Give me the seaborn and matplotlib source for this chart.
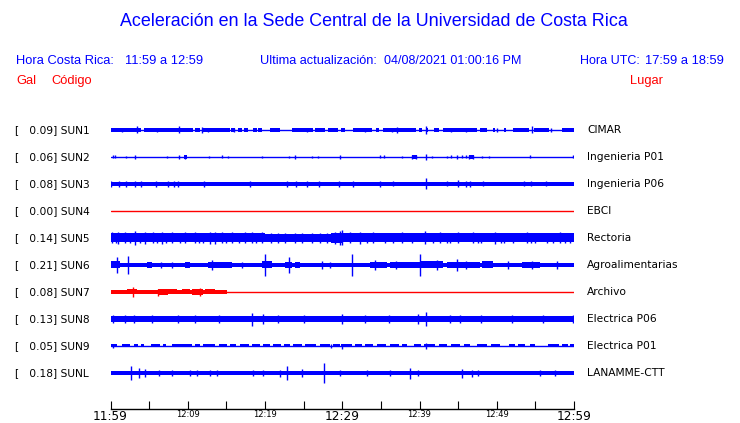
import matplotlib
matplotlib.use("Agg")
import matplotlib.pyplot as plt
import matplotlib.transforms as mtransforms
import seaborn as sns

# stations, peak values (Gal), places
codes   = ["SUN1", "SUN2", "SUN3", "SUN4", "SUN5", "SUN6", "SUN7", "SUN8", "SUN9", "SUNL"]
peaks   = [0.09, 0.06, 0.08, 0.00, 0.14, 0.21, 0.08, 0.13, 0.05, 0.18]
places  = ["CIMAR", "Ingenieria P01", "Ingenieria P06", "EBCI", "Rectoria",
           "Agroalimentarias", "Archivo", "Electrica P06", "Electrica P01", "LANAMME-CTT"]
status  = ["ok", "ok", "ok", "off", "ok", "ok", "off", "ok", "ok", "ok"]

# time axis, minutes after 11:59
t_start, t_end = 0, 60
major_ticks  = [0, 30, 60]
major_labels = ["11:59", "12:29", "12:59"]
minor_ticks  = [5, 10, 15, 20, 25, 35, 40, 45, 50, 55]
minor_labels = ["", "12:09", "", "12:19", "", "", "12:39", "", "12:49", ""]

# envelope of each trace: (t0, t1, half amplitude)
sun1_bands = [(0, 3.9, 1.7), (4.3, 10.7, 1.7), (11.0, 11.6, 1.7), (11.9, 15.5, 1.7), (15.6, 16.1, 1.7),
              (16.5, 17.0, 1.7), (17.3, 17.8, 1.7), (18.4, 18.9, 1.7), (19.1, 19.6, 1.7), (20.6, 21.9, 1.7),
              (23.5, 26.2, 1.7), (26.5, 27.8, 1.7), (28.2, 29.5, 1.7), (29.8, 30.4, 1.7), (31.4, 33.9, 1.7),
              (34.4, 34.8, 1.7), (35.3, 39.6, 1.7), (39.9, 40.3, 1.7), (40.8, 41.1, 1.7), (41.9, 42.5, 1.7),
              (43.0, 47.4, 1.7), (47.8, 48.7, 1.7), (49.5, 49.8, 1.7), (50.9, 51.2, 1.7), (52.1, 54.2, 1.7),
              (54.8, 56.8, 1.7), (58.5, 60, 1.7)]
sun1_spikes = [(3.4, 3.5), (8.9, 3.5), (11.8, 3.0), (37.1, 3.0), (40.8, 4.0), (54.5, 3.5), (12.6, 2.2),
               (25.4, 2.2), (33.0, 2.2), (44.1, 2.4), (50.0, 2.2), (1.5, 2.2), (6.0, 2.2), (16.0, 2.2),
               (36.5, 2.4), (46.0, 2.2), (57.0, 2.2)]

sun2_bands = [(9.5, 9.9, 1.6), (39.0, 39.7, 1.6), (46.4, 47.0, 1.6)]
sun2_spikes = [(0.3, 1.5), (0.6, 1.5), (2.0, 1.2), (3.2, 2.0), (7.3, 1.2), (8.9, 2.0), (9.6, 2.0),
               (12.8, 1.2), (14.4, 1.5), (15.2, 1.2), (19.6, 1.2), (23.1, 1.2), (23.9, 2.0), (26.1, 1.2),
               (26.9, 1.2), (29.7, 2.0), (34.9, 1.5), (35.4, 1.5), (37.7, 1.2), (39.0, 2.0), (39.5, 2.0),
               (40.8, 3.0), (41.6, 1.2), (43.6, 1.2), (44.1, 1.5), (44.9, 2.0), (45.5, 1.5), (46.0, 1.5),
               (46.4, 2.0), (46.9, 2.0), (48.1, 1.2), (49.0, 1.2), (54.3, 1.5), (59.9, 1.5)]

sun3_bands = [(0, 60, 2.1)]
sun3_spikes = [(0.1, 2.8), (1.1, 2.8), (2.0, 2.8), (3.2, 2.8), (3.9, 2.8), (5.9, 2.6), (7.4, 2.6), (8.2, 2.8),
               (8.7, 2.8), (12.1, 2.8), (18.1, 2.6), (22.9, 2.8), (24.0, 2.6), (25.4, 2.6), (27.0, 2.6),
               (29.6, 2.8), (31.4, 3.0), (34.9, 3.0), (36.6, 2.5), (40.8, 5.5), (43.6, 2.5), (45.0, 3.5),
               (46.0, 3.0), (46.5, 3.0), (48.2, 2.5), (53.5, 2.5), (54.4, 2.5), (56.4, 2.5)]

sun4_bands = []
sun4_spikes = []

sun5_bands = [(0, 20, 4.5), (20, 28.6, 3.9), (28.6, 30, 5.0), (30, 60, 4.5)]
sun5_spikes = [(0.2, 5.5), (1.0, 6.0), (1.9, 5.5), (3.2, 7.0), (4.5, 6.0), (5.5, 5.5), (6.7, 6.0), (8.0, 5.5),
               (9.6, 5.5), (10.9, 5.5), (12.9, 6.0), (13.5, 6.0), (14.4, 5.5), (15.7, 5.5), (17.4, 5.5),
               (18.3, 5.5), (19.6, 5.5), (21.7, 5.0), (23.9, 5.0), (26.1, 4.8), (29.1, 6.0), (29.7, 7.0),
               (30.0, 7.5), (32.3, 6.0), (34.0, 5.5), (37.7, 5.5), (40.7, 6.5), (42.7, 5.5), (45.0, 5.5),
               (46.9, 5.5), (49.8, 6.0), (52.1, 5.0), (53.9, 5.5), (56.5, 5.0), (58.2, 5.5), (59.5, 5.0),
               (2.5, 5.2), (7.2, 5.2), (11.5, 5.2), (16.6, 5.2), (31.0, 5.5), (35.5, 5.2), (39.0, 5.2),
               (44.0, 5.2), (48.0, 5.2), (51.0, 5.2), (55.0, 5.2), (57.3, 5.2), (0.7, 5.0), (3.8, 5.0),
               (6.0, 5.0), (9.0, 5.0), (12.0, 5.0), (14.9, 5.0), (18.8, 5.0), (33.2, 5.0), (36.6, 5.0),
               (41.8, 5.0), (43.5, 5.0), (47.6, 5.0), (50.5, 5.0), (54.4, 5.0), (58.8, 5.0),
               (20.8, 4.8), (22.6, 4.8), (24.8, 4.8), (27.1, 4.8), (28.0, 5.0)]

sun6_bands = [(0, 60, 2.1), (0, 1.2, 3.5), (4.7, 5.4, 3.0), (9.6, 10.3, 3.0), (12.6, 15.7, 3.2), (19.6, 20.9, 3.5),
              (22.6, 23.5, 3.2), (23.9, 24.5, 3.2), (33.6, 35.8, 3.2), (36.2, 40.1, 3.2), (40.1, 43.0, 3.5),
              (43.6, 47.8, 3.2), (48.1, 49.5, 3.5), (53.3, 55.6, 3.2)]
sun6_spikes = [(0.8, 8.0), (2.3, 8.5), (13.1, 5.0), (20.0, 11.0), (23.1, 8.0), (27.4, 4.0), (28.4, 3.0),
               (31.3, 11.0), (34.2, 5.0), (40.1, 11.0), (42.3, 5.0), (44.9, 6.0), (51.5, 4.0), (57.8, 4.0),
               (6.6, 3.0), (8.0, 3.0), (17.0, 3.0), (37.0, 4.0), (46.0, 4.0), (54.5, 3.5)]

sun7_bands = [(0, 15.1, 1.6), (2.2, 3.4, 2.5), (4.2, 5.1, 2.3), (6.1, 7.4, 3.0), (7.5, 8.6, 2.5), (9.3, 10.3, 2.5),
              (10.6, 12.0, 3.0), (12.2, 13.5, 2.5), (13.8, 15.1, 2.3)]
sun7_spikes = [(2.9, 5.0), (6.1, 3.5), (11.6, 4.0)]

sun8_bands = [(0, 60, 2.9)]
sun8_spikes = [(0.3, 3.8), (1.9, 3.8), (5.4, 3.8), (8.7, 4.0), (18.3, 6.5), (19.7, 5.0), (21.7, 3.8),
               (30.0, 5.0), (39.8, 5.0), (40.8, 7.0), (45.2, 4.0), (59.9, 3.8), (3.0, 3.6), (11.0, 3.6),
               (14.0, 3.6), (25.0, 3.6), (33.0, 3.6), (36.0, 3.6), (44.0, 3.6), (48.0, 3.6), (52.0, 3.6),
               (56.0, 3.6)]

sun9_bands = [(0, 0.8, 1.5), (1.5, 2.5, 1.5), (3.1, 3.6, 1.5), (4.0, 4.4, 1.5), (5.3, 6.4, 1.5), (6.8, 7.2, 1.5),
              (8.0, 10.6, 1.5), (11.0, 11.6, 1.5), (12.0, 13.5, 1.5), (14.0, 15.1, 1.5), (15.5, 16.3, 1.5),
              (16.8, 17.9, 1.5), (18.3, 19.3, 1.5), (19.7, 20.6, 1.5), (21.1, 22.1, 1.5), (22.5, 23.3, 1.5),
              (23.6, 24.8, 1.5), (25.2, 26.6, 1.5), (27.1, 28.4, 1.5), (28.8, 29.7, 1.5), (29.9, 31.2, 1.5),
              (31.6, 32.5, 1.5), (33.0, 34.0, 1.5), (34.5, 35.7, 1.5), (36.2, 37.3, 1.5), (37.7, 38.4, 1.5),
              (39.3, 40.2, 1.5), (40.6, 42.0, 1.5), (42.5, 43.6, 1.5), (44.1, 45.2, 1.5), (45.7, 46.6, 1.5),
              (47.4, 48.7, 1.5), (49.2, 50.4, 1.5), (51.6, 52.4, 1.5), (52.8, 53.6, 1.5), (54.3, 55.0, 1.5),
              (56.6, 58.0, 1.5), (58.4, 59.2, 1.5), (59.5, 60, 1.5)]
sun9_spikes = [(30.0, 2.5), (40.8, 3.0), (0.3, 2.0), (28.5, 2.0)]

sunl_bands = [(0, 60, 2.1)]
sunl_spikes = [(2.7, 7.0), (3.7, 5.0), (4.5, 4.0), (6.3, 3.0), (8.0, 3.0), (10.3, 3.0), (11.2, 3.0),
               (12.9, 3.0), (13.8, 3.0), (18.4, 2.8), (19.7, 2.8), (21.9, 3.5), (22.9, 7.0), (24.8, 4.0),
               (27.6, 10.0), (29.7, 3.0), (33.2, 3.0), (36.2, 3.0), (38.8, 5.5), (39.8, 3.0), (45.5, 4.5),
               (46.8, 3.5), (47.6, 3.0), (55.6, 3.0), (57.5, 3.0)]

bands  = [sun1_bands, sun2_bands, sun3_bands, sun4_bands, sun5_bands,
          sun6_bands, sun7_bands, sun8_bands, sun9_bands, sunl_bands]
spikes = [sun1_spikes, sun2_spikes, sun3_spikes, sun4_spikes, sun5_spikes,
          sun6_spikes, sun7_spikes, sun8_spikes, sun9_spikes, sunl_spikes]

BLUE = "#0000ff"
RED = "#ff0000"
SCALE = 1 / 27.0   # amplitude -> row height

sns.set_style("white")
plt.rcParams["font.family"] = ["DejaVu Sans"]
plt.rcParams["text.color"] = "black"
plt.rcParams["xtick.color"] = "black"

fig = plt.figure(figsize=(7.4, 4.23), dpi=100)
W, H = 740.0, 423.0
ax_left, ax_right, ax_top, ax_bottom = 110.5, 574.0, 110.0, 409.0
ax = fig.add_axes([ax_left / W, 1 - ax_bottom / H, (ax_right - ax_left) / W, (ax_bottom - ax_top) / H])
row0, row_gap = 130.0, 27.0
ax.set_xlim(t_start, t_end)
ax.set_ylim((ax_bottom - row0) / row_gap, (ax_top - row0) / row_gap)

# traces
for i in range(len(codes)):
    col = RED if status[i] == "off" else BLUE
    sns.lineplot(x=[t_start, t_end], y=[i, i], color=col, lw=1.0, ax=ax)
    for t0, t1, a in bands[i]:
        ax.fill_between([t0, t1], i - a * SCALE, i + a * SCALE, color=col, lw=0, antialiased=False)
    if spikes[i]:
        xs = [s[0] for s in spikes[i]]
        ax.vlines(xs, [i - s[1] * SCALE for s in spikes[i]], [i + s[1] * SCALE for s in spikes[i]],
                  color=col, lw=1.0)

# axis
for side in ["top", "left", "right"]:
    ax.spines[side].set_visible(False)
ax.spines["bottom"].set_linewidth(1.0)
ax.spines["bottom"].set_color("black")
ax.set_yticks([])
ax.set_xticks(major_ticks)
ax.set_xticklabels(major_labels, fontsize=8.7)
ax.set_xticks(minor_ticks, minor=True)
ax.set_xticklabels(minor_labels, minor=True, fontsize=6)
ax.tick_params(axis="x", which="both", bottom=True, direction="in", length=5.8, width=0.8,
               color="black", labelcolor="black", pad=0.5)
ax.set_xlabel("")
ax.set_ylabel("")

# row labels
trans = mtransforms.blended_transform_factory(fig.transFigure, ax.transData)
for i in range(len(codes)):
    ax.text(15 / W, i, "[   %.2f] %s" % (peaks[i], codes[i]), transform=trans, fontsize=7.7,
            va="center", ha="left", color="black")
    ax.text(587 / W, i, places[i], transform=trans, fontsize=7.7, va="center", ha="left", color="black")

# header
hf = ["Liberation Sans", "DejaVu Sans"]
fig.text(374 / W, 1 - 22 / H, "Aceleración en la Sede Central de la Universidad de Costa Rica",
         fontsize=12.9, color=BLUE, ha="center", va="center", family=hf)
fig.text(16 / W, 1 - 61 / H, "Hora Costa Rica:", fontsize=9.3, color=BLUE, va="center", family=hf)
fig.text(125 / W, 1 - 61 / H, "11:59 a 12:59", fontsize=9.3, color=BLUE, va="center", family=hf)
fig.text(260 / W, 1 - 61 / H, "Ultima actualización:", fontsize=9.2, color=BLUE, va="center", family=hf)
fig.text(384 / W, 1 - 61 / H, "04/08/2021 01:00:16 PM", fontsize=9.0, color=BLUE, va="center", family=hf)
fig.text(580 / W, 1 - 61 / H, "Hora UTC:", fontsize=9.0, color=BLUE, va="center", family=hf)
fig.text(724 / W, 1 - 61 / H, "17:59 a 18:59", fontsize=9.3, color=BLUE, va="center", ha="right", family=hf)
fig.text(16 / W, 1 - 81 / H, "Gal", fontsize=9.3, color=RED, va="center", family=hf)
fig.text(51 / W, 1 - 81 / H, "Código", fontsize=9.3, color=RED, va="center", family=hf)
fig.text(630 / W, 1 - 81 / H, "Lugar", fontsize=9.3, color=RED, va="center", family=hf)

fig.savefig("out.png", dpi=100)
